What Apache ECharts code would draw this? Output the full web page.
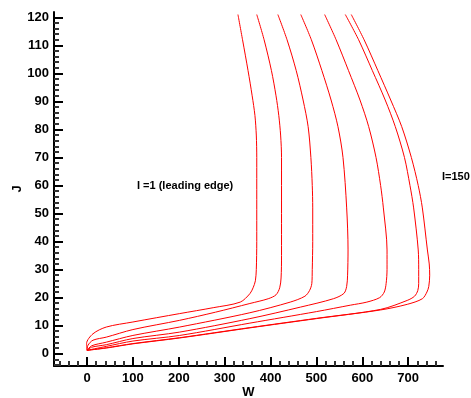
<!DOCTYPE html>
<html>
<head>
<meta charset="utf-8">
<script src="https://cdn.jsdelivr.net/npm/echarts@6/dist/echarts.min.js"></script>
<style>
html,body{margin:0;padding:0;background:#fff;}
#chart{width:471px;height:398px;}
</style>
</head>
<body>
<div id="chart"></div>
<script>
// Tick labels
var xTickValues = [0, 100, 200, 300, 400, 500, 600, 700];
var yTickValues = [0, 10, 20, 30, 40, 50, 60, 70, 80, 90, 100, 110, 120];
var xMinorTicks = [-60, -40, -20, 20, 40, 60, 80, 120, 140, 160, 180, 220, 240, 260, 280, 320, 340, 360, 380, 420, 440, 460, 480, 520, 540, 560, 580, 620, 640, 660, 680, 720, 740, 760];
var yMinorTicks = [-4, -2, 2, 4, 6, 8, 12, 14, 16, 18, 22, 24, 26, 28, 32, 34, 36, 38, 42, 44, 46, 48, 52, 54, 56, 58, 62, 64, 66, 68, 72, 74, 76, 78, 82, 84, 86, 88, 92, 94, 96, 98, 102, 104, 106, 108, 112, 114, 116, 118];

// Curves: [W, J] pairs, one list per I-station
var curve1 = [[0,1.2],[-1,3.6],[13,7.1],[42,9.5],[100,11.3],[202,14.3],[275,16.4],[334,18.4],[355,21.4],[362,23.5],[367,26],[369,30],[370,40],[370,55],[370,70],[369,78],[366,85],[360,92],[351,101],[339,112],[329,121]];
var curve2 = [[0,1.2],[2,3],[13,4.8],[42,5.9],[100,8.6],[202,11.9],[280,14.8],[355,17.9],[395,19.6],[412,21],[420,23.5],[423,27],[424,35],[424,50],[424,70],[422,78],[418,85],[412,92],[402,101],[386,112],[370,121]];
var curve3 = [[0,1.2],[10,2.8],[42,4.1],[100,6.5],[202,9.5],[355,14.6],[443,18.4],[475,20.5],[485,22.5],[490,25],[491,30],[492,40],[492,52],[491,60],[488,70],[482,81],[471,90.5],[456,101],[436,112],[416,121]];
var curve4 = [[0,1.2],[10,2.3],[42,3.2],[100,5.4],[202,7.7],[355,12.5],[465,16.6],[537,19.6],[560,21.5],[566,24],[568,28],[569,37],[566,52],[558,70],[547,81],[532,90.5],[512,101],[489,112],[466,121]];
var curve5 = [[0,1.2],[42,2.6],[100,4.5],[202,6.5],[355,10.9],[500,15],[574,17.3],[610,18.4],[638,20],[648,22],[652,25],[654,30],[654,37],[646,52],[640,60],[630,70],[614,81],[595,90.5],[570,101],[543,112],[518,121]];
var curve6 = [[0,1.2],[42,2.1],[100,3.6],[202,5.7],[355,9.3],[500,12.6],[640,15.8],[698,19],[714,20.5],[721,22.5],[723,25],[723,30],[722,37],[712,52],[704,60],[692,70],[672,81],[650,90.5],[622,101],[592,112],[563,121]];
var curve7 = [[0,1.2],[42,2.0],[100,3.5],[202,5.6],[355,9.2],[500,12.5],[640,15.6],[698,17.6],[731,19.6],[741,22],[745,24],[747,28],[746,32],[742,37],[731,52],[722,60],[707,70],[686,81],[662,90.5],[634,101],[604,112],[576,121]];
var curves = [curve1, curve2, curve3, curve4, curve5, curve6, curve7];

var labelFont = {color:'#000', fontFamily:'Liberation Sans, Arial, sans-serif', fontWeight:'bold', fontSize:13};

var chart = echarts.init(document.getElementById('chart'), null, {renderer:'canvas'});
var series = curves.map(function(c){
  return {type:'line', data:c, xAxisIndex:0, yAxisIndex:0, showSymbol:false, symbol:'none', smooth:0.3,
    lineStyle:{color:'#ff0000', width:1}, silent:true, animation:false};
});
chart.setOption({
  animation:false,
  backgroundColor:'#fff',
  grid:{left:54, top:12, right:28, bottom:32, outerBoundsMode:'none', containLabel:false},
  xAxis:[{
    type:'value', min:-72, max:776, position:'bottom',
    name:'W', nameLocation:'middle', nameGap:20, nameMoveOverlap:false,
    nameTextStyle:labelFont,
    axisLine:{show:true, onZero:false, lineStyle:{color:'#000', width:2}},
    axisTick:{show:true, inside:true, length:9, customValues:xTickValues, lineStyle:{color:'#000', width:2}},
    axisLabel:{show:true, customValues:xTickValues, margin:6, color:'#000', fontFamily:labelFont.fontFamily, fontWeight:'bold', fontSize:13},
    splitLine:{show:false}
  },{
    type:'value', min:-72, max:776, position:'bottom',
    axisLine:{show:false, onZero:false},
    axisTick:{show:true, inside:true, length:5, customValues:xMinorTicks, lineStyle:{color:'#333', width:2}},
    axisLabel:{show:false},
    splitLine:{show:false}
  }],
  yAxis:[{
    type:'value', min:-4.4, max:121.9, position:'left',
    name:'J', nameLocation:'middle', nameGap:30, nameMoveOverlap:false,
    nameTextStyle:labelFont,
    axisLine:{show:true, onZero:false, lineStyle:{color:'#000', width:2}},
    axisTick:{show:true, inside:true, length:9, customValues:yTickValues, lineStyle:{color:'#000', width:2}},
    axisLabel:{show:true, customValues:yTickValues, margin:5, color:'#000', fontFamily:labelFont.fontFamily, fontWeight:'bold', fontSize:13},
    splitLine:{show:false}
  },{
    type:'value', min:-4.4, max:121.9, position:'left',
    axisLine:{show:false, onZero:false},
    axisTick:{show:true, inside:true, length:5, customValues:yMinorTicks, lineStyle:{color:'#333', width:2}},
    axisLabel:{show:false},
    splitLine:{show:false}
  }],
  graphic:[
    {type:'text', left:137, top:180, style:{text:'I =1 (leading edge)', fill:'#000', font:'bold 11px "Liberation Sans", Arial, sans-serif'}},
    {type:'text', left:442, top:171, style:{text:'I=150', fill:'#000', font:'bold 11px "Liberation Sans", Arial, sans-serif'}}
  ],
  series:series
});
</script>
</body>
</html>
